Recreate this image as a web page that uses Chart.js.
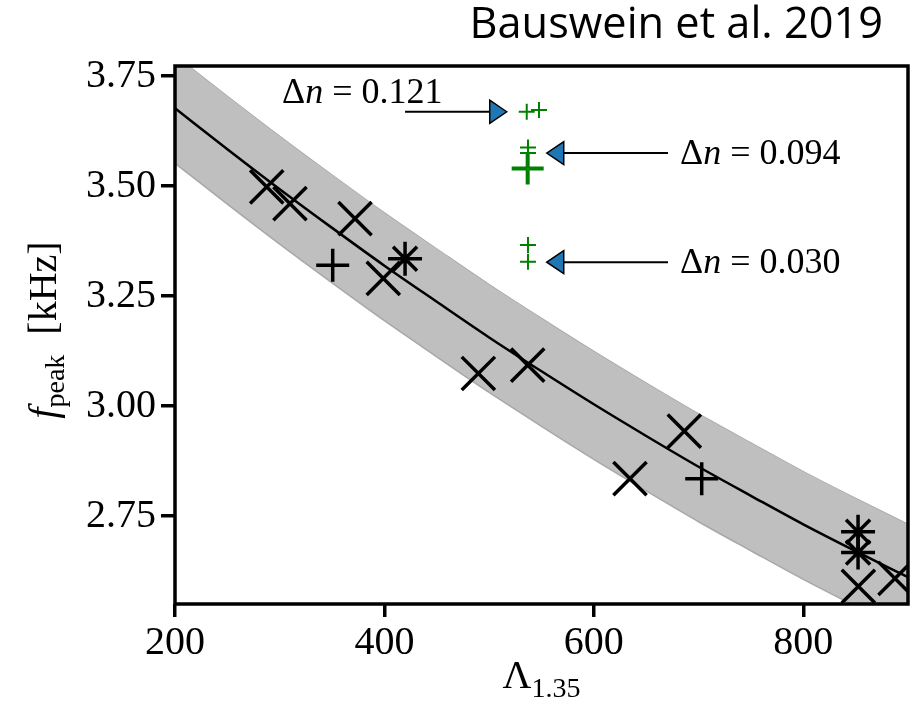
<!DOCTYPE html>
<html>
<head>
<meta charset="utf-8">
<script src="https://cdn.jsdelivr.net/npm/chart.js@4.4.1/dist/chart.umd.min.js"></script>
<style>body{margin:0;background:#fff}</style>
</head>
<body>
<canvas id="grafica" width="914" height="710"></canvas>
<script>
// fit curve and its grey band
var fitLambda = [200, 250, 300, 350, 400, 450, 500, 550, 600, 650, 700, 750, 800, 850, 900];
var fitFreq   = [3.677, 3.584, 3.493, 3.405, 3.319, 3.237, 3.156, 3.079, 3.004, 2.932, 2.862, 2.796, 2.731, 2.670, 2.611];
var bandUpper = [3.797, 3.704, 3.613, 3.525, 3.439, 3.357, 3.276, 3.199, 3.124, 3.052, 2.982, 2.916, 2.851, 2.790, 2.731];
var bandLower = [3.552, 3.459, 3.368, 3.280, 3.194, 3.112, 3.031, 2.954, 2.879, 2.807, 2.737, 2.671, 2.606, 2.545, 2.486];

// black markers
var crossLambda = [287.6, 309.8, 371.9, 398.9, 489.7, 536.8, 634.5, 686.4, 852.6, 887.6];
var crossFreq   = [3.498, 3.460, 3.426, 3.290, 3.074, 3.093, 2.835, 2.943, 2.590, 2.608];
var plusLambda  = [350.6, 703.0];
var plusFreq    = [3.320, 2.835];
var starLambda  = [419.7, 852.3, 852.3];
var starFreq    = [3.335, 2.714, 2.667];

// green markers (Delta n models)
var greenLambda = [535.9, 547.6, 537.1, 537.1, 537.1, 537.1];
var greenFreq   = [3.669, 3.673, 3.588, 3.575, 3.366, 3.328];
var bigGreenLambda = [536.8];
var bigGreenFreq   = [3.540];

var xTicks = [200, 400, 600, 800];
var yTicks = [2.75, 3.00, 3.25, 3.50, 3.75];

// annotations: label, text anchor, arrow start, arrow tip (data units)
var notas = [
    {label: '0.121', text: [302.2, 3.689], from: [419.7, 3.669], to: [516.8, 3.669]},
    {label: '0.094', text: [682.3, 3.550], from: [670.8, 3.575], to: [555.0, 3.575]},
    {label: '0.030', text: [682.3, 3.302], from: [670.8, 3.327], to: [555.0, 3.327]}
];

function pts(xs, ys) {
    return xs.map((x, i) => ({x: x, y: ys[i]}));
}

var serif = '"Liberation Serif", "DejaVu Serif", serif';

function runs(ctx, parts, x, y, align) {
    var w = 0;
    parts.forEach(p => { ctx.font = p[1]; w += ctx.measureText(p[0]).width; });
    var cx = align === 'center' ? x - w / 2 : x;
    parts.forEach(p => {
        ctx.font = p[1];
        ctx.fillText(p[0], cx, y + (p[2] || 0));
        cx += ctx.measureText(p[0]).width;
    });
}

var extras = {
    id: 'extras',
    afterDatasetsDraw(chart) {
        var ctx = chart.ctx, a = chart.chartArea, sx = chart.scales.x, sy = chart.scales.y;
        ctx.save();
        // arrows
        notas.forEach(n => {
            var x0 = sx.getPixelForValue(n.from[0]), y0 = sy.getPixelForValue(n.from[1]);
            var x1 = sx.getPixelForValue(n.to[0]), y1 = sy.getPixelForValue(n.to[1]);
            var dir = x1 > x0 ? 1 : -1;
            ctx.strokeStyle = '#000';
            ctx.lineWidth = 2;
            ctx.beginPath();
            ctx.moveTo(x0, y0);
            ctx.lineTo(x1 - dir * 17, y1);
            ctx.stroke();
            ctx.beginPath();
            ctx.moveTo(x1, y1);
            ctx.lineTo(x1 - dir * 17, y1 - 11.5);
            ctx.lineTo(x1 - dir * 17, y1 + 11.5);
            ctx.closePath();
            ctx.fillStyle = '#1f77b4';
            ctx.fill();
            ctx.lineWidth = 1.5;
            ctx.stroke();
            ctx.fillStyle = '#000';
            ctx.textBaseline = 'alphabetic';
            runs(ctx, [['\u0394', '36px ' + serif], ['n', 'italic 36px ' + serif], [' = ' + n.label, '36px ' + serif]],
                sx.getPixelForValue(n.text[0]), sy.getPixelForValue(n.text[1]), 'left');
        });
        // frame
        ctx.strokeStyle = '#000';
        ctx.lineWidth = 3.5;
        ctx.strokeRect(a.left, a.top, a.right - a.left, a.bottom - a.top);
        ctx.restore();
    },
    afterDraw(chart) {
        var ctx = chart.ctx, a = chart.chartArea;
        ctx.save();
        ctx.fillStyle = '#000';
        ctx.textBaseline = 'alphabetic';
        // x title
        runs(ctx, [['\u039B', '40px ' + serif], ['1.35', '28px ' + serif, 9]], (a.left + a.right) / 2, 688, 'center');
        // y title
        ctx.translate(56, (a.top + a.bottom) / 2 - 5);
        ctx.rotate(-Math.PI / 2);
        runs(ctx, [['f', 'italic 40px ' + serif], ['peak', '28px ' + serif, 8], ['\u2002[kHz]', '40px ' + serif]], 0, 0, 'center');
        ctx.setTransform(1, 0, 0, 1, 0, 0);
        // header
        var head = 'Bauswein et al. 2019';
        ctx.font = '32px "Open Sans"';
        var s = 32 * 413 / ctx.measureText(head).width;
        ctx.font = s.toFixed(1) + 'px "Open Sans"';
        ctx.textAlign = 'right';
        ctx.fillText(head, 883, 38);
        ctx.restore();
    }
};

var ctx = document.getElementById('grafica').getContext('2d');
var myChart = new Chart(ctx, {
    type: 'scatter',
    data: {
        datasets: [
            {
                type: 'line', data: pts(fitLambda, bandUpper), order: 5,
                borderColor: '#a8a8a8', borderWidth: 1.5, pointRadius: 0,
                tension: 0.4, cubicInterpolationMode: 'monotone', fill: false
            },
            {
                type: 'line', data: pts(fitLambda, bandLower), order: 4,
                borderColor: '#a8a8a8', borderWidth: 1.5, pointRadius: 0,
                backgroundColor: '#bfbfbf',
                tension: 0.4, cubicInterpolationMode: 'monotone', fill: '-1'
            },
            {
                type: 'line', data: pts(fitLambda, fitFreq), order: 3,
                borderColor: '#000', borderWidth: 2.5, pointRadius: 0,
                tension: 0.4, cubicInterpolationMode: 'monotone', fill: false
            },
            {
                data: pts(crossLambda, crossFreq), order: 1,
                pointStyle: 'crossRot', pointRadius: 23.5, borderColor: '#000', borderWidth: 3.5
            },
            {
                data: pts(plusLambda, plusFreq), order: 1,
                pointStyle: 'cross', pointRadius: 16.5, borderColor: '#000', borderWidth: 3.5
            },
            {
                data: pts(starLambda, starFreq), order: 1,
                pointStyle: 'star', pointRadius: 17, borderColor: '#000', borderWidth: 3.5
            },
            {
                data: pts(greenLambda, greenFreq), order: 1,
                pointStyle: 'cross', pointRadius: 8, borderColor: '#008000', borderWidth: 2
            },
            {
                data: pts(bigGreenLambda, bigGreenFreq), order: 1,
                pointStyle: 'cross', pointRadius: 16, borderColor: '#008000', borderWidth: 4
            }
        ]
    },
    options: {
        responsive: false,
        animation: false,
        layout: {autoPadding: false, padding: {left: 0, right: 6, top: 66, bottom: 0}},
        plugins: {legend: {display: false}, tooltip: {enabled: false}},
        scales: {
            x: {
                type: 'linear', min: 200, max: 900,
                afterBuildTicks: axis => { axis.ticks = xTicks.map(v => ({value: v})); },
                afterFit: scale => { scale.height = 106; },
                grid: {drawOnChartArea: false, drawTicks: true, tickLength: 13, color: '#000', lineWidth: 3.5},
                border: {display: false},
                ticks: {color: '#000', font: {family: serif, size: 40}, padding: 2, maxRotation: 0,
                    callback: v => String(v)}
            },
            y: {
                type: 'linear', min: 2.55, max: 3.773,
                afterBuildTicks: axis => { axis.ticks = yTicks.map(v => ({value: v})); },
                afterFit: scale => { scale.width = 175; },
                grid: {drawOnChartArea: false, drawTicks: true, tickLength: 14, color: '#000', lineWidth: 3.5},
                border: {display: false},
                ticks: {color: '#000', font: {family: serif, size: 40}, padding: 5,
                    callback: v => v.toFixed(2)}
            }
        }
    },
    plugins: [extras]
});
</script>
</body>
</html>
